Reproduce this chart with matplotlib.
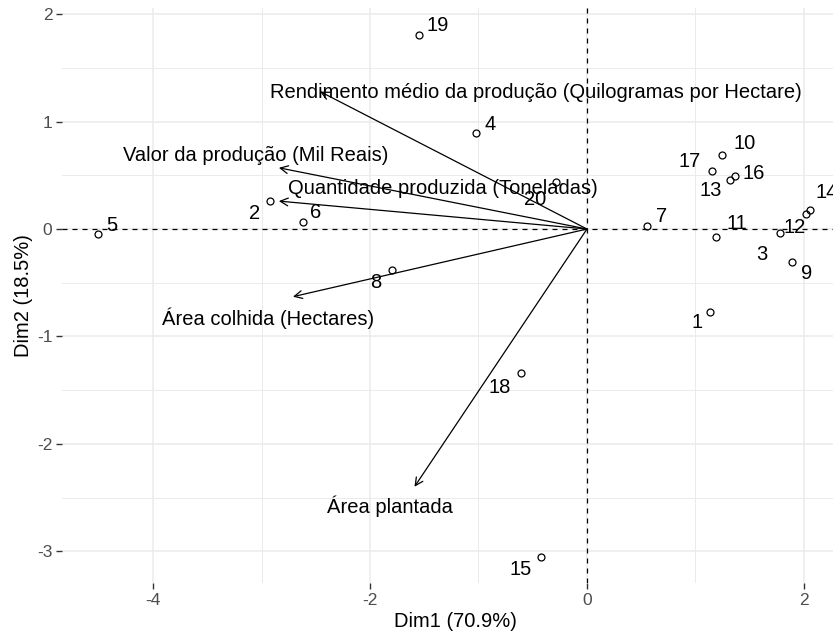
import matplotlib
matplotlib.use('Agg')
import matplotlib.pyplot as plt
from matplotlib.ticker import MultipleLocator

plt.rcParams['font.family'] = ['Liberation Sans', 'DejaVu Sans']
plt.rcParams['axes.unicode_minus'] = False

# individuals (PCA scores)
ids = ['1', '2', '3', '4', '5', '6', '7', '8', '9', '10',
       '11', '12', '13', '14', '15', '16', '17', '18', '19', '20']
dim1 = [1.13, -2.92, 1.78, -1.02, -4.51, -2.62, 0.55, -1.80, 1.89, 1.24,
        1.19, 2.02, 1.32, 2.06, -0.42, 1.36, 1.15, -0.61, -1.55, -0.29]
dim2 = [-0.77, 0.26, -0.04, 0.89, -0.05, 0.07, 0.03, -0.38, -0.31, 0.69,
        -0.07, 0.14, 0.46, 0.18, -3.05, 0.49, 0.54, -1.34, 1.81, 0.44]

# variables (loadings, arrow ends)
var_names = ['Rendimento médio da produção (Quilogramas por Hectare)',
             'Valor da produção (Mil Reais)',
             'Quantidade produzida (Toneladas)',
             'Área colhida (Hectares)',
             'Área plantada']
var_x = [-2.46, -2.84, -2.84, -2.71, -1.59]
var_y = [1.28, 0.57, 0.26, -0.63, -2.40]
# where the variable names were placed (repelled labels)
var_lab_x = [-0.47, -3.05, -1.33, -2.94, -1.82]
var_lab_y = [1.27, 0.68, 0.38, -0.83, -2.58]

# label nudges in pixels (dx right, dy up)
nudges = {'1': (-13, -11), '2': (-16, -12), '3': (-18, -21), '4': (14, 9),
          '5': (14, 9), '6': (13, 9), '7': (15, 9), '8': (-16, -13),
          '9': (15, -11), '10': (23, 11), '11': (21, 13), '12': (-11, -14),
          '13': (-19, -11), '14': (16, 17), '15': (-21, -13), '16': (19, 3),
          '17': (-22, 10), '18': (-21, -15), '19': (19, 9), '20': (-20, -18)}

fig = plt.figure(figsize=(8.33, 6.37), dpi=100)
ax = fig.add_axes([62 / 833, 54 / 637, 786 / 833, 575 / 637])

ax.set_xlim(-4.839, 2.406)
ax.set_ylim(-3.296, 2.058)

ax.xaxis.set_major_locator(MultipleLocator(2))
ax.xaxis.set_minor_locator(MultipleLocator(1))
ax.yaxis.set_major_locator(MultipleLocator(1))
ax.yaxis.set_minor_locator(MultipleLocator(0.5))
ax.grid(which='major', color='#EBEBEB', lw=1.1)
ax.grid(which='minor', color='#EBEBEB', lw=0.7)
ax.set_axisbelow(True)
for s in ax.spines.values():
    s.set_visible(False)
ax.tick_params(which='major', length=4, width=1, color='#333333',
               labelsize=12.5, labelcolor='#4D4D4D', pad=3)
ax.tick_params(which='minor', length=0)

ax.axhline(0, color='black', lw=0.9, ls=(0, (4, 4)))
ax.axvline(0, color='black', lw=0.9, ls=(0, (4, 4)))

ax.plot(dim1, dim2, 'o', ms=5, mfc='none', mec='black', mew=0.9)
for lab, x, y in zip(ids, dim1, dim2):
    dx, dy = nudges[lab]
    ax.annotate(lab, (x, y), xytext=(dx * 0.72, dy * 0.72), textcoords='offset points',
                ha='center', va='center', fontsize=14.5, color='black')

for name, x, y, lx, ly in zip(var_names, var_x, var_y, var_lab_x, var_lab_y):
    ax.annotate('', xy=(x, y), xytext=(0, 0),
                arrowprops=dict(arrowstyle='->', color='black', lw=0.9,
                                mutation_scale=14, shrinkA=0, shrinkB=0))
    ax.text(lx, ly, name, ha='center', va='center', fontsize=14.5, color='black')

ax.set_xlabel('Dim1 (70.9%)', fontsize=14.5, labelpad=3)
ax.set_ylabel('Dim2 (18.5%)', fontsize=14.5, labelpad=3)

fig.savefig('out.png', dpi=100)
